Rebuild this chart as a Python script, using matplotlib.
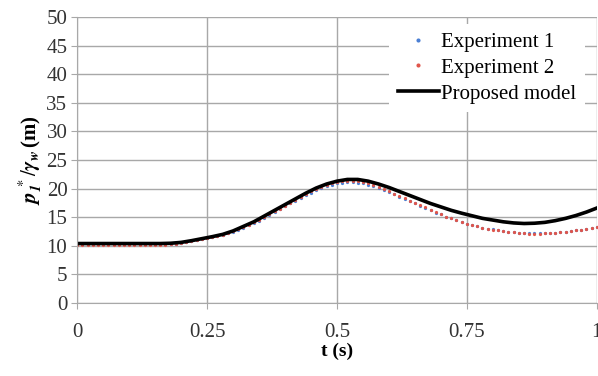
import numpy as np
import matplotlib.pyplot as plt

# dados (t em s, pressao em m)
t_exp = np.round(np.arange(0, 101) * 0.01, 2)
exp1 = [10.3, 10.3, 10.3, 10.3, 10.3, 10.3, 10.3, 10.3, 10.3, 10.3,
        10.3, 10.3, 10.3, 10.3, 10.3, 10.3, 10.3, 10.3, 10.35, 10.4,
        10.5, 10.7, 10.9, 11.0, 11.2, 11.3, 11.5, 11.7, 11.9, 12.2,
        12.5, 12.8, 13.2, 13.6, 14.0, 14.4, 14.9, 15.4, 15.9, 16.4,
        16.9, 17.4, 17.9, 18.4, 18.9, 19.3, 19.7, 20.1, 20.4, 20.7,
        20.9, 21.0, 21.1, 21.1, 21.0, 20.9, 20.7, 20.4, 20.1, 19.8,
        19.4, 19.0, 18.6, 18.2, 17.8, 17.4, 17.0, 16.6, 16.2, 15.8,
        15.5, 15.1, 14.8, 14.5, 14.2, 13.9, 13.7, 13.4, 13.2, 13.0,
        12.9, 12.7, 12.6, 12.5, 12.4, 12.3, 12.25, 12.2, 12.2, 12.2,
        12.2, 12.25, 12.3, 12.4, 12.5, 12.6, 12.7, 12.85, 13.0, 13.15,
        13.3]
exp2 = [10.2, 10.2, 10.2, 10.2, 10.2, 10.2, 10.2, 10.2, 10.2, 10.2,
        10.2, 10.2, 10.2, 10.2, 10.2, 10.2, 10.2, 10.2, 10.25, 10.35,
        10.5, 10.7, 10.9, 11.05, 11.2, 11.35, 11.55, 11.75, 11.95, 12.25,
        12.55, 12.9, 13.3, 13.7, 14.1, 14.5, 15.0, 15.5, 16.0, 16.5,
        17.0, 17.5, 18.0, 18.5, 19.0, 19.5, 19.9, 20.3, 20.6, 20.9,
        21.1, 21.25, 21.35, 21.4, 21.3, 21.15, 20.9, 20.6, 20.3, 19.9,
        19.5, 19.1, 18.7, 18.3, 17.9, 17.5, 17.1, 16.7, 16.3, 15.9,
        15.5, 15.1, 14.8, 14.5, 14.2, 13.9, 13.6, 13.4, 13.2, 13.0,
        12.8, 12.7, 12.6, 12.45, 12.35, 12.3, 12.2, 12.15, 12.15, 12.15,
        12.2, 12.2, 12.25, 12.35, 12.45, 12.55, 12.7, 12.85, 13.0, 13.15,
        13.3]
t_mod = np.round(np.arange(0, 51) * 0.02, 2)
modelo = [10.4, 10.4, 10.4, 10.4, 10.4, 10.4, 10.4, 10.4, 10.4, 10.45,
          10.6, 10.9, 11.25, 11.6, 12.0, 12.6, 13.4, 14.2, 15.2, 16.2,
          17.2, 18.2, 19.2, 20.1, 20.8, 21.3, 21.6, 21.6, 21.3, 20.8,
          20.2, 19.5, 18.8, 18.1, 17.4, 16.8, 16.2, 15.7, 15.25, 14.8,
          14.5, 14.2, 14.0, 13.9, 13.95, 14.1, 14.4, 14.8, 15.3, 15.9,
          16.6]

plt.rcParams['font.family'] = 'Liberation Serif'
plt.rcParams['mathtext.fontset'] = 'stix'

fig = plt.figure(figsize=(5.98, 3.76), dpi=100)
ax = fig.add_axes([0.129, 0.194, 0.869, 0.761])

ax.plot(t_exp, exp1, ls='none', marker='o', ms=1.3, color='#4a7fd4',
        label='Experiment 1')
ax.plot(t_exp, exp2, ls='none', marker='o', ms=1.3, color='#e0554a',
        label='Experiment 2')
ax.plot(t_mod, modelo, color='black', lw=2.6, label='Proposed model')

ax.set_xlim(0, 1)
ax.set_ylim(0, 50)
ax.set_xticks([0, 0.25, 0.5, 0.75, 1])
ax.set_xticklabels(['0', '0.25', '0.5', '0.75', '1'])
ax.set_yticks(np.arange(0, 51, 5))
ax.grid(True, color='#a8a8a8', lw=1)
ax.set_axisbelow(True)
for s in ['top', 'right']:
    ax.spines[s].set_visible(False)
for s in ['left', 'bottom']:
    ax.spines[s].set_color('#a8a8a8')
ax.tick_params(colors='#333333', labelsize=15, length=4, color='#a8a8a8')
ax.tick_params(axis='x', pad=10)
ax.tick_params(axis='y', pad=3)

ax.set_xlabel('t (s)', fontsize=14, fontweight='bold', labelpad=1)
ax.set_ylabel(r'$\mathbfit{p}_{\mathbfit{1}}^{\ *}/\mathbfit{\gamma}_{\mathbfit{w}}\,$(m)',
              fontsize=15, fontweight='bold', labelpad=1)

leg = ax.legend(loc='upper right', fontsize=15, frameon=True, framealpha=1,
                edgecolor='none', handlelength=2.0, handletextpad=0.1,
                borderaxespad=0.2, labelspacing=0.3, markerscale=1.5,
                bbox_to_anchor=(0.985, 0.99))

fig.savefig('out.png', dpi=100)
